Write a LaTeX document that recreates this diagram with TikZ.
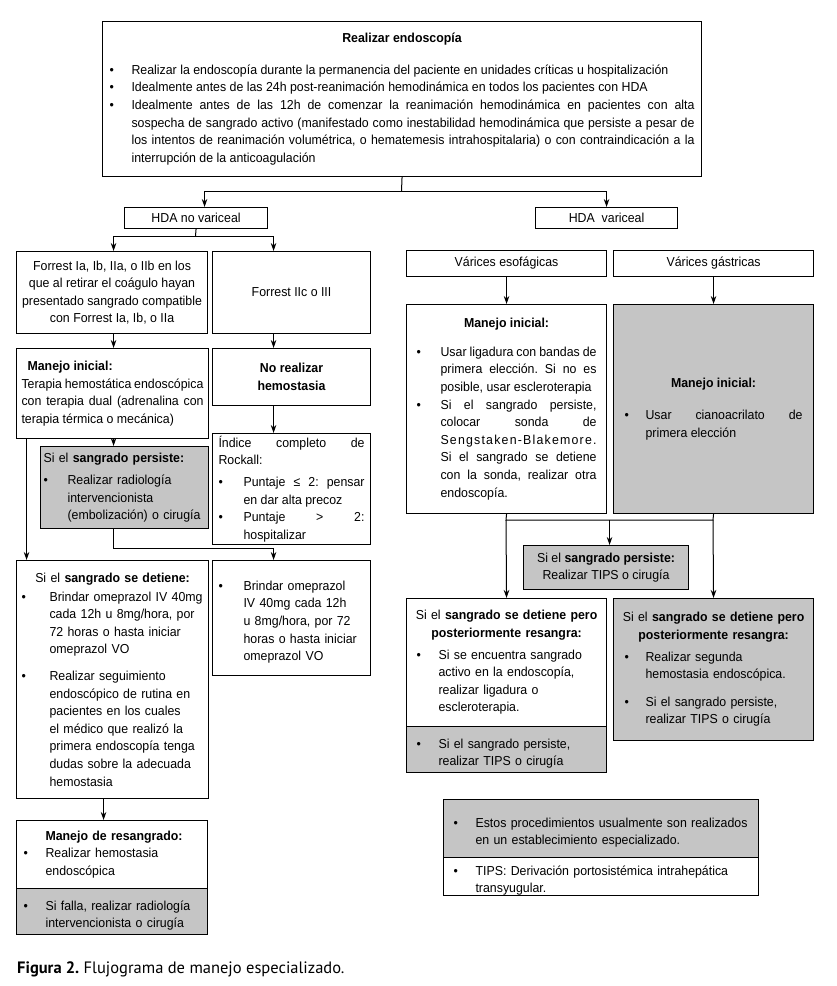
\documentclass[tikz,border=0pt]{standalone}
\usepackage{fontspec}
\setmainfont{Liberation Sans}[FakeStretch=0.95]
\newfontfamily\capfont{PT Sans}
\usetikzlibrary{arrows.meta}
\definecolor{boxgray}{RGB}{197,197,197}
\setlength{\parindent}{0pt}
\frenchspacing
\newcommand{\bul}[2]{\par\hangindent=#1pt\hangafter=1\noindent\makebox[#1pt][l]{\textbullet}#2\par}
\newcommand{\sbk}[1]{\hbox to #1pt{S\hfil e\hfil n\hfil g\hfil s\hfil t\hfil a\hfil k\hfil e\hfil n\hfil -\hfil B\hfil l\hfil a\hfil k\hfil e\hfil m\hfil o\hfil r\hfil e\hfil .}}
\newcommand{\ctrline}[1]{\makebox[\linewidth][c]{#1}}
\begin{document}
\begin{tikzpicture}[x=1pt,y=-1pt,
  every node/.style={font=\fontsize{13}{17.6}\selectfont},
  box/.style={draw, line width=1.1pt, anchor=north west, inner sep=0pt},
  gbox/.style={box, fill=boxgray},
  arr/.style={-{Stealth[length=8pt,width=5.5pt]}, line width=1pt},
  ln/.style={line width=1pt}]
\fill[white] (0,0) rectangle (836,986);
\useasboundingbox (0,0) rectangle (836,986);

% top box
\node[box, minimum width=599pt, minimum height=155pt, text width=585pt, align=justify] (top) at (102,21) {%
{\centering\textbf{Realizar endoscopía}\par}\vspace{14pt}%
\bul{22}{Realizar la endoscopía durante la permanencia del paciente en unidades críticas u hospitalización}%
\bul{22}{Idealmente antes de las 24h post-reanimación hemodinámica en todos los pacientes con HDA}%
\bul{22}{Idealmente antes de las 12h de comenzar la reanimación hemodinámica en pacientes con alta\linebreak sospecha de sangrado activo (manifestado como inestabilidad hemodinámica que persiste a pesar de\linebreak los intentos de reanimación volumétrica, o hematemesis intrahospitalaria) o con contraindicación a la\linebreak interrupción de la anticoagulación}};

\node[box, minimum width=143pt, minimum height=21pt] (hno) at (124,207) {HDA no variceal};
\node[box, minimum width=142pt, minimum height=21pt] (hva) at (535,207) {HDA\ \ variceal};

\node[box, minimum width=191pt, minimum height=82pt, align=center] (fA) at (16,251) {Forrest Ia, Ib, IIa, o IIb en los\\que al retirar el coágulo hayan\\presentado sangrado compatible\\con Forrest Ia, Ib, o IIa};
\node[box, minimum width=158pt, minimum height=82pt] (fB) at (212,251) {Forrest IIc o III};
\node[box, minimum width=200pt, minimum height=26pt] (vE) at (406,250) {Várices esofágicas};
\node[box, minimum width=200pt, minimum height=26pt] (vG) at (613,250) {Várices gástricas};

\node[box, minimum width=192pt, minimum height=90pt, text width=182pt, align=justify] (mA) at (16,348) {\hspace*{6pt}\textbf{Manejo inicial:}\par Terapia hemostática endoscópica\linebreak con terapia dual (adrenalina con\linebreak terapia térmica o mecánica)};
\node[box, minimum width=158pt, minimum height=57pt, align=center] (nR) at (212,348) {\textbf{No realizar}\\\textbf{hemostasia}};

\node[gbox, minimum width=168pt, minimum height=82pt, text width=162pt, align=left] (gP) at (40,446) {Si el \textbf{sangrado persiste:}\par\vspace{5pt}\bul{24}{Realizar radiología\newline intervencionista\newline (embolización) o cirugía}};

\node[box, minimum width=158pt, minimum height=111pt, text width=146pt, align=justify] (iR) at (212,433) {Índice completo de\linebreak Rockall:\par\vspace{4pt}\bul{25}{Puntaje ≤ 2: pensar\linebreak en dar alta precoz}\bul{25}{Puntaje > 2:\linebreak hospitalizar}};

\node[box, minimum width=192pt, minimum height=238pt, text width=182pt, align=left] (sD) at (16,560) {{\centering Si el \textbf{sangrado se detiene:}\par}\vspace{1pt}\bul{28}{Brindar omeprazol IV 40mg\newline cada 12h u 8mg/hora, por\newline 72 horas o hasta iniciar\newline omeprazol VO}\vspace{9pt}\bul{28}{Realizar seguimiento\newline endoscópico de rutina en\newline pacientes en los cuales\newline el médico que realizó la\newline primera endoscopía tenga\newline dudas sobre la adecuada\newline hemostasia}};

\node[box, minimum width=158pt, minimum height=115pt, text width=146pt, align=left] (oM) at (212,560) {\bul{25}{Brindar omeprazol\newline IV 40mg cada 12h\newline u 8mg/hora, por 72\newline horas o hasta iniciar\newline omeprazol VO}\vspace{20pt}};

\node[box, minimum width=191pt, minimum height=68pt, text width=177pt, align=left] (rsA) at (16,820) {\hspace*{22pt}\textbf{Manejo de resangrado:}\par\bul{22}{Realizar hemostasia\newline endoscópica}};
\node[gbox, minimum width=191pt, minimum height=46pt, text width=177pt, align=left] (rsB) at (16,888) {\bul{22}{Si falla, realizar radiología\newline intervencionista o cirugía}};

\node[box, minimum width=200pt, minimum height=209pt, text width=180pt, align=justify] (mE) at (406,304) {{\centering\textbf{Manejo inicial:}\par}\vspace{11pt}\bul{24}{Usar ligadura con bandas de\linebreak primera elección. Si no es\linebreak posible, usar escleroterapia}\bul{24}{Si el sangrado persiste,\linebreak colocar sonda de\linebreak\sbk{156}\linebreak Si el sangrado se detiene\linebreak con la sonda, realizar otra\linebreak endoscopía.}};

\node[gbox, minimum width=200pt, minimum height=209pt, text width=178pt, align=justify] (mG) at (613,304) {{\centering\textbf{Manejo inicial:}\par}\vspace{14pt}\bul{21}{Usar cianoacrilato de\linebreak primera elección}\vspace{12pt}};

\node[gbox, minimum width=165pt, minimum height=44pt, align=center] (tP) at (523,545) {Si el \textbf{sangrado persiste:}\\Realizar TIPS o cirugía};

\node[box, minimum width=200pt, minimum height=128pt, text width=180pt, align=left] (lrA) at (406,598) {\ctrline{Si el \textbf{sangrado se detiene pero}}\par\ctrline{\textbf{posteriormente resangra:}}\par\vspace{4pt}\bul{22}{Si se encuentra sangrado\newline activo en la endoscopía,\newline realizar ligadura o\newline escleroterapia.}};
\node[gbox, minimum width=200pt, minimum height=46pt, text width=180pt, align=left] (lrB) at (406,726) {\bul{22}{Si el sangrado persiste,\newline realizar TIPS o cirugía}};

\node[gbox, minimum width=200pt, minimum height=142pt, text width=178pt, align=left] (rr) at (613,598) {\ctrline{Si el \textbf{sangrado se detiene pero}}\par\ctrline{\textbf{posteriormente resangra:}}\par\vspace{4pt}\bul{21}{Realizar segunda\newline hemostasia endoscópica.}\vspace{10pt}\bul{21}{Si el sangrado persiste,\newline realizar TIPS o cirugía}};

\node[gbox, minimum width=315pt, minimum height=58pt, text width=295pt, align=left] (nt) at (443,799) {\bul{22}{Estos procedimientos usualmente son realizados\newline en un establecimiento especializado.}};
\node[box, minimum width=315pt, minimum height=38pt, text width=295pt, align=left] (nt2) at (443,857) {\bul{22}{TIPS: Derivación portosistémica intrahepática\newline transyugular.}};

\node[anchor=base west, inner sep=0pt, font=\capfont\fontsize{16.5}{19}\selectfont] (cap) at (17,973) {\textbf{Figura 2.} Flujograma de manejo especializado.};

% junctions
\coordinate (j0) at (401.5,191);
\coordinate (j1) at (195.5,236);
\coordinate (j2) at (506,520);
\coordinate (j3) at (713,520);

% connectors
\draw[ln] (top.south) -- (j0);
\draw[arr] (j0) -| ([xshift=8.5pt]hno.north);
\draw[arr] (j0) -| (hva.north);
\draw[ln] (hno.south) -- (j1);
\draw[arr] (j1) -| ([xshift=1.5pt]fA.north);
\draw[arr] (j1) -| ([xshift=-18pt]fB.north);
\draw[arr] ([xshift=1.5pt]fA.south) -- ([xshift=1.5pt]fA.south |- mA.north);
\draw[arr] ([xshift=-18pt]fB.south) -- ([xshift=-18pt]fB.south |- nR.north);
\draw[arr] ([xshift=-18pt]nR.south) -- ([xshift=-18pt]nR.south |- iR.north);
\draw[arr] ([xshift=1pt]mA.south) -- ([xshift=1pt]mA.south |- gP.north);
\draw[arr] ([xshift=-86pt]mA.south) -- ([xshift=-86pt]mA.south |- sD.north);
\draw[arr] ([xshift=-11pt]gP.south) -- ++(0,19) -| ([xshift=-18pt]oM.north);
\draw[arr] ([xshift=-9pt]sD.south) -- ([xshift=-9pt]sD.south |- rsA.north);
\draw[arr] (vE.south) -- (mE.north);
\draw[arr] (vG.south) -- (mG.north);
\draw[ln] (mE.south) -- (j2) -- (j3) -- (mG.south);
\draw[arr] (j2) -- (lrA.north);
\draw[arr] (j3) -- (rr.north);
\draw[arr] ([xshift=3.5pt]tP.north |- j2) -- ([xshift=3.5pt]tP.north);
\end{tikzpicture}
\end{document}
